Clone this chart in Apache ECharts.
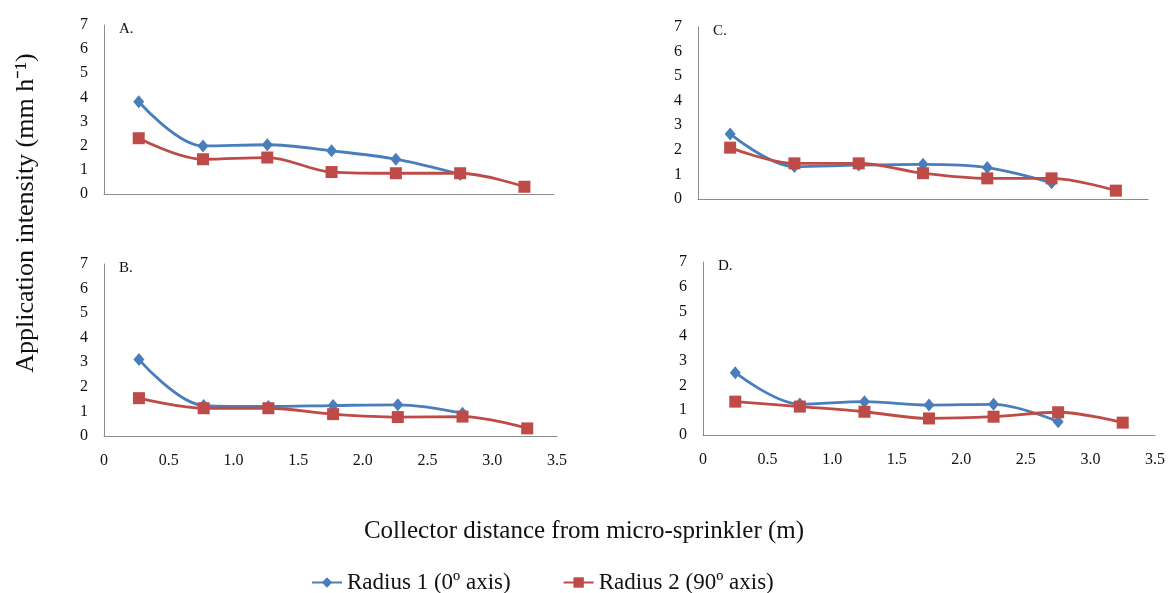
<!DOCTYPE html>
<html>
<head>
<meta charset="utf-8">
<script src="https://cdn.jsdelivr.net/npm/echarts@6/dist/echarts.min.js"></script>
<style>
  html, body { margin: 0; padding: 0; background: #fff; }
  #chart { width: 1168px; height: 593px; }
</style>
</head>
<body>
<div id="chart"></div>
<script>
// distances of the collectors (m)
var distAB = [0.27, 0.77, 1.27, 1.77, 2.27, 2.77, 3.27];
var distCD = [0.25, 0.75, 1.25, 1.75, 2.25, 2.75, 3.25];

// application intensity (mm h-1), radius 1 has no last collector
var aRadius1 = [3.82, 1.99, 2.04, 1.79, 1.44, 0.81];
var aRadius2 = [2.31, 1.44, 1.51, 0.91, 0.86, 0.86, 0.30];
var bRadius1 = [3.11, 1.24, 1.20, 1.24, 1.27, 0.93];
var bRadius2 = [1.54, 1.13, 1.13, 0.89, 0.77, 0.79, 0.31];
var cRadius1 = [2.65, 1.32, 1.38, 1.41, 1.28, 0.66];
var cRadius2 = [2.09, 1.45, 1.45, 1.05, 0.84, 0.84, 0.34];
var dRadius1 = [2.52, 1.25, 1.35, 1.21, 1.24, 0.54];
var dRadius2 = [1.35, 1.15, 0.94, 0.67, 0.74, 0.92, 0.50];

var panelNames = ['A.', 'B.', 'C.', 'D.'];
var seriesNames = ['Radius 1 (0º axis)', 'Radius 2 (90º axis)'];

var blue = '#4a7ebb';
var red = '#be4b48';
var axisGray = '#8c8c8c';
var serif = '"Liberation Serif", "Times New Roman", serif';

function pairs(xs, ys) {
    return ys.map(function (y, i) { return [xs[i], y]; });
}

var grids = [
    { left: 104, top: 25, width: 450, height: 169 },
    { left: 104, top: 264, width: 453, height: 172 },
    { left: 698, top: 27, width: 450, height: 172 },
    { left: 703, top: 262, width: 455, height: 173 }
];
var showX = [false, true, false, true];
var panelData = [
    [pairs(distAB, aRadius1), pairs(distAB, aRadius2)],
    [pairs(distAB, bRadius1), pairs(distAB, bRadius2)],
    [pairs(distCD, cRadius1), pairs(distCD, cRadius2)],
    [pairs(distCD, dRadius1), pairs(distCD, dRadius2)]
];

var xAxes = [], yAxes = [], series = [], titles = [];
grids.forEach(function (g, i) {
    xAxes.push({
        type: 'value', gridIndex: i, min: 0, max: 3.5, interval: 0.5,
        axisLine: { lineStyle: { color: axisGray, width: 1 } },
        axisTick: { show: false },
        splitLine: { show: false },
        axisLabel: {
            show: showX[i], color: '#111', fontFamily: serif, fontSize: 16, margin: 17,
            formatter: function (v) { return v === 0 ? '0' : v.toFixed(1); }
        }
    });
    yAxes.push({
        type: 'value', gridIndex: i, min: 0, max: 7, interval: 1,
        axisLine: { show: true, lineStyle: { color: axisGray, width: 1 } },
        axisTick: { show: false },
        splitLine: { show: false },
        axisLabel: { color: '#111', fontFamily: serif, fontSize: 16, margin: 16 }
    });
    titles.push({
        text: panelNames[i], left: g.left + 10, top: g.top - 8,
        textStyle: { fontFamily: serif, fontSize: 15, fontWeight: 'normal', color: '#111' }
    });
    series.push({
        name: seriesNames[0], type: 'line', xAxisIndex: i, yAxisIndex: i,
        data: panelData[i][0], smooth: 0.35,
        symbol: 'diamond', symbolSize: [11, 13],
        lineStyle: { color: blue, width: 2.8 },
        itemStyle: { color: blue }
    });
    series.push({
        name: seriesNames[1], type: 'line', xAxisIndex: i, yAxisIndex: i,
        data: panelData[i][1], smooth: 0.35,
        symbol: 'rect', symbolSize: 12,
        lineStyle: { color: red, width: 2.8 },
        itemStyle: { color: red }
    });
});

titles.push({
    text: 'Collector distance from micro-sprinkler (m)', left: 'center', top: 514,
    textStyle: { fontFamily: serif, fontSize: 25, fontWeight: 'normal', color: '#111' }
});

var chart = echarts.init(document.getElementById('chart'), null, { renderer: 'canvas' });
chart.setOption({
    backgroundColor: '#fff',
    animation: false,
    title: titles,
    grid: grids,
    xAxis: xAxes,
    yAxis: yAxes,
    series: series,
    legend: {
        data: seriesNames, top: 566, left: 306, itemGap: 52, itemWidth: 30, itemHeight: 13,
        textStyle: { fontFamily: serif, fontSize: 23, color: '#111' }
    },
    graphic: [{
        type: 'text', x: 26, y: 213, rotation: Math.PI / 2,
        style: {
            text: 'Application intensity (mm h⁻¹)', fill: '#111',
            font: '26px ' + serif, textAlign: 'center', textVerticalAlign: 'middle'
        }
    }]
});
</script>
</body>
</html>
